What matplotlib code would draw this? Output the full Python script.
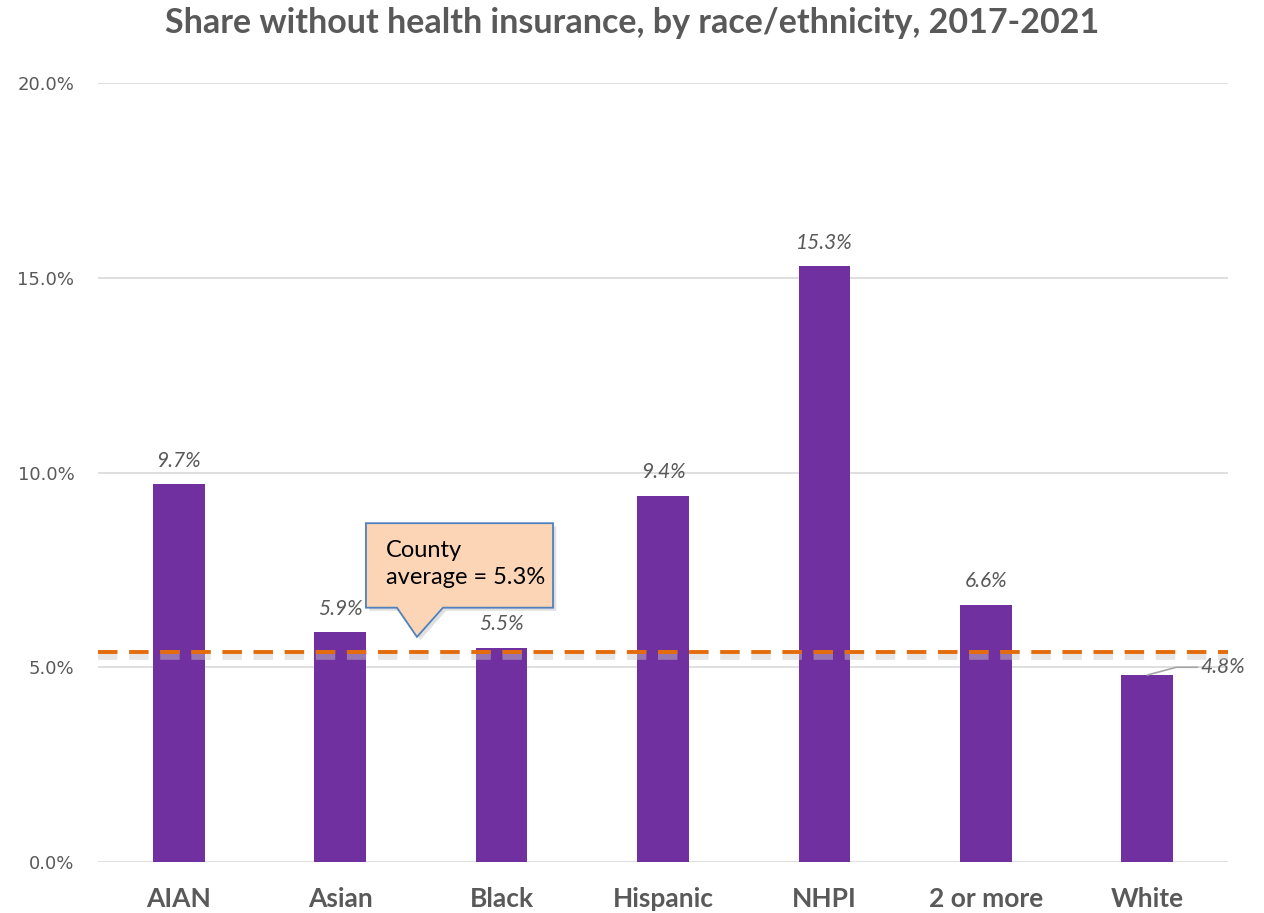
import matplotlib
matplotlib.use("Agg")
import matplotlib.pyplot as plt
from matplotlib.patches import Polygon
import matplotlib.patheffects as pe

categories = ["AIAN", "Asian", "Black", "Hispanic", "NHPI", "2 or more", "White"]
values = [9.7, 5.9, 5.5, 9.4, 15.3, 6.6, 4.8]
county_avg_label = 5.3
county_avg_line = 5.4
yticks = [0, 5, 10, 15, 20]

plt.rcParams['font.family'] = ['Lato', 'DejaVu Sans']
gray = '#595959'
purple = '#7030A0'
orange = '#E46C0A'

fig = plt.figure(figsize=(12.64, 9.13), dpi=100)
ax = fig.add_axes([0.0775, 0.0559, 0.894, 0.853])

x = list(range(len(categories)))
ax.bar(x, values, width=0.32, color=purple, zorder=3)
ax.set_xlim(-0.5, len(categories) - 0.5)
ax.set_ylim(0, 20)
ax.set_yticks(yticks)
ax.set_yticklabels([f"{v:.1f}%" for v in yticks], color=gray, fontsize=13,
                   family=['DejaVu Sans'])
ax.set_xticks(x)
ax.set_xticklabels(categories, fontsize=19, fontweight='bold', color=gray)
ax.tick_params(axis='both', length=0)
ax.tick_params(axis='y', pad=17)
ax.tick_params(axis='x', pad=18)
ax.grid(axis='y', color='#D9D9D9', linewidth=1.2, zorder=0)
for s in ax.spines.values():
    s.set_visible(False)

# value labels
for i, v in enumerate(values):
    if categories[i] == "White":
        ax.annotate(f"{v:.1f}%", xy=(i, v), xytext=(i + 0.33, v + 0.2),
                    fontsize=15, style='italic', color=gray, va='center', ha='left',
                    arrowprops=dict(arrowstyle='-', color='#A6A6A6', lw=1.2,
                                    shrinkA=0, shrinkB=0,
                                    connectionstyle='angle,angleA=0,angleB=15,rad=0'))
    else:
        ax.text(i, v + 0.35, f"{v:.1f}%", ha='center', va='bottom', fontsize=15,
                style='italic', color=gray, zorder=4)

# county average dashed line with shadow
ax.axhline(county_avg_line, color=orange, lw=2.8, dashes=(5, 3), zorder=5,
           path_effects=[pe.SimpleLineShadow(offset=(0, -2.5), shadow_color='#C8C8C8',
                                             alpha=0.45, linewidth=7),
                         pe.Normal()])

# callout
box = [(1.160, 8.70), (2.319, 8.70), (2.319, 6.53), (1.637, 6.53), (1.476, 5.78),
       (1.352, 6.53), (1.160, 6.53)]
shadow = Polygon([(px + 0.02, py - 0.08) for px, py in box], closed=True,
                 facecolor='#C8C8C8', edgecolor='none', alpha=0.55, zorder=6)
ax.add_patch(shadow)
call = Polygon(box, closed=True, facecolor='#FBD5B5', edgecolor='#4F81BD', lw=1.3, zorder=7)
ax.add_patch(call)
ax.text(1.285, 7.65, f"County\naverage = {county_avg_label}%", fontsize=17, color='black',
        va='center', ha='left', linespacing=1.4, zorder=8)

fig.suptitle("Share without health insurance, by race/ethnicity, 2017-2021", y=0.992,
             fontsize=24.5, fontweight='bold', color=gray)

fig.savefig("out.png", dpi=100)
